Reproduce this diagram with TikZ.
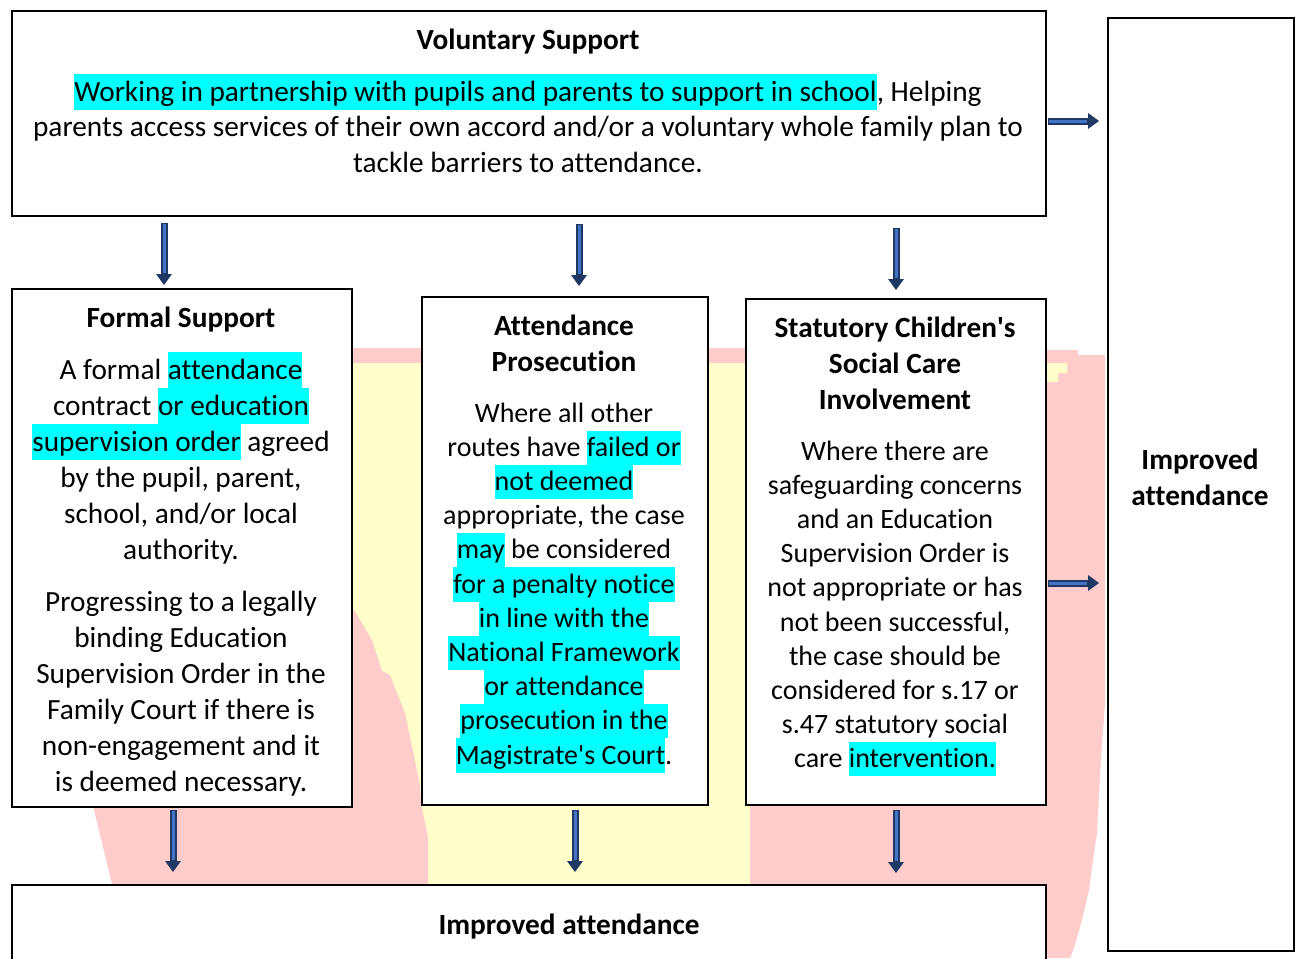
\documentclass[tikz,border=0pt]{standalone}
\usepackage{fontspec}
\setmainfont{Carlito}[Ligatures={NoCommon}]
\usetikzlibrary{arrows.meta,calc}
\definecolor{pinkbg}{HTML}{FFCCCC}
\definecolor{yellowbg}{HTML}{FFFFCC}
\definecolor{hlcyan}{HTML}{00FFFF}
\definecolor{arrowdark}{HTML}{1F3864}
\definecolor{arrowfill}{HTML}{4472C4}
\newcommand\hl[1]{{\setlength\fboxsep{0pt}\colorbox{hlcyan}{\strut #1}}}
\newcommand\fontA{\fontsize{29.3}{36}\selectfont\setbox\strutbox\hbox{\vrule height 27pt depth 9pt width 0pt}}
\newcommand\fontV{\fontsize{29.3}{35.5}\selectfont\setbox\strutbox\hbox{\vrule height 26.6pt depth 8.9pt width 0pt}}
\newcommand\fontB{\fontsize{28}{34.2}\selectfont\setbox\strutbox\hbox{\vrule height 25.6pt depth 8.6pt width 0pt}}
\begin{document}
\begin{tikzpicture}[x=1pt,y=-1pt,
  box/.style={draw=black, line width=1.8pt, fill=white, inner sep=0pt, anchor=north west},
  txt/.style={inner sep=0pt, anchor=base, text=black},
  barrow/.style={draw=arrowdark, line width=7pt,
    -{Triangle[width=16pt,length=11pt,line width=0pt]},
    postaction={draw=arrowfill, line width=3pt, -, shorten >=12pt, shorten <=1.5pt}}]
\useasboundingbox (0,0) rectangle (1295,958);
\clip (0,0) rectangle (1295,958);
% background
\fill[yellowbg] (351,363) rectangle (750,884);
\fill[pinkbg] (351,348) rectangle (745,363);
\fill[pinkbg] (351,606) -- (356,613) -- (372,640) -- (382,671) -- (390,675) -- (405,713) -- (413,751) -- (420,785) -- (421,804) -- (424,818) -- (428,837) -- (428,884) -- (112,884) -- (93,806) -- (351,806) -- cycle;
\fill[pinkbg] (1045,350) -- (1078,350) -- (1078,355) -- (1105,355) -- (1105,704) -- (1101,757) -- (1097,833) -- (1093,860) -- (1089,890) -- (1082,920) -- (1075,945) -- (1070,958) -- (1045,958) -- (1045,884) -- (750,884) -- (750,804) -- (1045,804) -- cycle;
\fill[yellowbg] (1045,363) -- (1067,363) -- (1067,373) -- (1058,373) -- (1058,382) -- (1045,382) -- cycle;
% boxes
\node[box, minimum width=1034pt, minimum height=205pt] (vol) at (11,10) {};
\node[box, minimum width=340pt, minimum height=518pt] (formal) at (11,288) {};
\node[box, minimum width=286pt, minimum height=508pt] (pros) at (421,296) {};
\node[box, minimum width=300pt, minimum height=506pt] (stat) at (745,298) {};
\node[box, minimum width=186pt, minimum height=933pt] (right) at (1107,17) {};
\node[box, minimum width=1034pt, minimum height=150pt] (bottom) at (11,884) {};
% texts
\node[txt, font=\fontA\bfseries] (volT) at (528,49) {Voluntary Support};
\node[txt, font=\fontV] (volB) at (528,101) {\begin{tabular}[t]{@{}c@{}}\hl{Working in partnership with pupils and parents to support in school}, Helping\\
parents access services of their own accord and/or a voluntary whole family plan to\\
tackle barriers to attendance.\end{tabular}};
\node[txt, font=\fontA\bfseries] (formalT) at (181,327) {Formal Support};
\node[txt, font=\fontA] (formalB) at (181,379) {\begin{tabular}[t]{@{}c@{}}A formal \hl{attendance}\\
contract \hl{or education}\\
\hl{supervision order} agreed\\
by the pupil, parent,\\
school, and/or local\\
authority.\\[16pt]
Progressing to a legally\\
binding Education\\
Supervision Order in the\\
Family Court if there is\\
non-engagement and it\\
is deemed necessary.\end{tabular}};
\node[txt, font=\fontA\bfseries] (prosT) at (564,335) {\begin{tabular}[t]{@{}c@{}}Attendance\\ Prosecution\end{tabular}};
\node[txt, font=\fontB] (prosB) at (564,422) {\begin{tabular}[t]{@{}c@{}}Where all other\\
routes have \hl{failed or}\\
\hl{not deemed}\\
appropriate, the case\\
\hl{may} be considered\\
\hl{for a penalty notice}\\
\hl{in line with the}\\
\hl{National Framework}\\
\hl{or attendance}\\
\hl{prosecution in the}\\
\hl{Magistrate\textquotesingle s Court}.\end{tabular}};
\node[txt, font=\fontA\bfseries] (statT) at (895,337) {\begin{tabular}[t]{@{}c@{}}Statutory Children\textquotesingle s\\ Social Care\\ Involvement\end{tabular}};
\node[txt, font=\fontB] (statB) at (895,460) {\begin{tabular}[t]{@{}c@{}}Where there are\\
safeguarding concerns\\
and an Education\\
Supervision Order is\\
not appropriate or has\\
not been successful,\\
the case should be\\
considered for s.17 or\\
s.47 statutory social\\
care \hl{intervention.}\end{tabular}};
\node[txt, font=\fontA\bfseries] (rightT) at (1200,469) {\begin{tabular}[t]{@{}c@{}}Improved\\ attendance\end{tabular}};
\node[txt, font=\fontA\bfseries] (bottomT) at (569,934) {Improved attendance};
% arrows
\draw[barrow] ($(vol.south west)+(153,6)$) -- ($(formal.north west)+(153,-3)$);
\draw[barrow] ($(vol.south west)+(568,7)$) -- ($(pros.north west)+(158,-10)$);
\draw[barrow] ($(vol.south west)+(885,11)$) -- ($(stat.north west)+(151,-8)$);
\draw[barrow] ($(vol.north east)+(1,111)$) -- ($(right.north west)+(-8,104)$);
\draw[barrow] ($(stat.north east)+(1,285)$) -- ($(right.north west)+(-8,566)$);
\draw[barrow] ($(formal.south west)+(162,2)$) -- ($(bottom.north west)+(162,-12)$);
\draw[barrow] ($(pros.south west)+(154,4)$) -- ($(bottom.north west)+(564,-12)$);
\draw[barrow] ($(stat.south west)+(151,4)$) -- ($(bottom.north west)+(885,-11)$);
\end{tikzpicture}
\end{document}
